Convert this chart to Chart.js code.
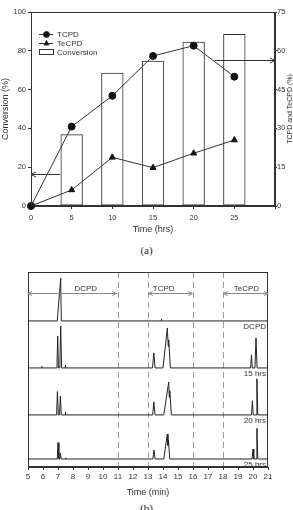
<!DOCTYPE html>
<html>
<head>
<meta charset="utf-8">
<script src="https://cdn.jsdelivr.net/npm/chart.js@4.4.1/dist/chart.umd.min.js"></script>
<style>
  body { margin: 0; background: #fff; width: 293px; height: 510px; position: relative; overflow: hidden; }
  canvas { position: absolute; left: 0; }
  #topChart { top: 0; }
  #botChart { top: 258px; }
  .cap { position: absolute; left: 0; width: 293px; text-align: center; font: 11px "Liberation Serif", serif; color: #222; }
</style>
</head>
<body>
<canvas id="topChart" width="293" height="240"></canvas>
<div class="cap" style="top:244px">(a)</div>
<canvas id="botChart" width="293" height="240"></canvas>
<div class="cap" style="top:502px">(b)</div>

<script>
// ---- (a) conversion / selectivity data ----
const hours = [0, 5, 10, 15, 20, 25];
const tcpd = [0, 30.7, 42.6, 58, 62, 50];
const tecpd = [0, 6.2, 18.8, 14.8, 20.4, 25.5];
const convHours = [5, 10, 15, 20, 25];
const conversion = [37, 68.7, 74.9, 84.7, 88.7];
// arrows: [fromX, toX, y on left axis]
const leftArrow = [3.6, 0, 16.5];
const rightArrow = [22.6, 30, 75.3];

// ---- (b) chromatograms ----
const traceNames = ['DCPD', '15 hrs', '20 hrs', '25 hrs'];
const traceBase = [74.9, 50.8, 26.7, 4.1];
// [time (min), peak height]
const tracePeaks = [
  [[5, 0], [6.95, 0], [7.18, 22], [7.22, 0], [13.87, 0], [13.89, 1], [13.91, 0], [21, 0]],
  [[5, 0], [5.92, 0], [5.93, 0.8], [5.94, 0], [6.93, 0], [6.98, 16.4], [7.03, 0], [7.12, 0], [7.18, 21.5], [7.24, 0],
   [7.47, 0], [7.49, 1.5], [7.52, 0], [13.3, 0], [13.39, 7.7], [13.47, 0], [14.0, 0], [14.29, 20.5], [14.35, 11],
   [14.38, 14.4], [14.49, 0], [19.84, 0], [19.9, 6.7], [19.95, 0], [20.13, 0], [20.2, 15.4], [20.27, 0], [21, 0]],
  [[5, 0], [6.91, 0], [6.96, 12], [7.02, 0], [7.1, 0], [7.16, 9.7], [7.22, 0], [7.47, 0], [7.49, 1.5], [7.52, 0],
   [13.31, 0], [13.39, 6.7], [13.47, 0], [14.05, 0], [14.38, 16.8], [14.42, 9], [14.45, 12.4], [14.56, 0],
   [19.9, 0], [19.96, 7.3], [20.02, 0], [20.2, 0], [20.26, 18.5], [20.32, 0], [21, 0]],
  [[5, 0], [6.95, 0], [7.0, 8.4], [7.06, 0], [7.12, 0], [7.16, 3.1], [7.21, 0], [7.48, 0], [7.5, 0.6], [7.52, 0],
   [13.32, 0], [13.4, 4.6], [13.47, 0], [14.05, 0], [14.29, 12.8], [14.33, 7], [14.36, 9.7], [14.45, 0],
   [19.94, 0], [20.0, 5.1], [20.05, 0], [20.2, 0], [20.26, 15.7], [20.32, 0], [21, 0]]
];
const dashedAt = [11, 13, 16, 18];
const ranges = [[5, 10.9, 'DCPD', 8.85], [13.05, 15.95, 'TCPD', 14.05], [18.05, 21, 'TeCPD', 19.56]];
const rangeY = 89.2;

Chart.defaults.font.family = '"Liberation Sans", Arial, sans-serif';
Chart.defaults.font.size = 8;
Chart.defaults.color = '#333';

function arrow(ctx, x1, x2, y, head) {
  ctx.beginPath();
  ctx.moveTo(x1, y);
  ctx.lineTo(x2, y);
  const d = x2 > x1 ? -1 : 1;
  ctx.moveTo(x2 + d * head, y - head * 0.5);
  ctx.lineTo(x2, y);
  ctx.lineTo(x2 + d * head, y + head * 0.5);
  ctx.stroke();
}

const topDecor = {
  id: 'topDecor',
  afterDraw(chart) {
    const { ctx, chartArea: a, scales } = chart;
    ctx.save();
    ctx.strokeStyle = '#333';
    ctx.lineWidth = 1;
    ctx.strokeRect(a.left + 0.5, a.top + 0.5, a.width - 1, a.height - 1);

    // arrows pointing to the axes
    for (const ar of [leftArrow, rightArrow]) {
      const y = Math.round(scales.y.getPixelForValue(ar[2])) + 0.5;
      arrow(ctx, scales.x.getPixelForValue(ar[0]), scales.x.getPixelForValue(ar[1]), y, 5);
    }

    // legend inside the plot
    const lx = a.left + 8, ly = a.top + 22;
    chart.data.datasets.forEach((ds, i) => {
      const y = ly + i * 9;
      ctx.strokeStyle = '#333';
      ctx.fillStyle = '#111';
      if (ds.type === 'line') {
        ctx.beginPath();
        ctx.moveTo(lx, y + 0.5);
        ctx.lineTo(lx + 14, y + 0.5);
        ctx.stroke();
        Chart.helpers.drawPoint(ctx, { pointStyle: ds.pointStyle, radius: 3, borderWidth: 1 }, lx + 7.5, y + 0.5);
      } else {
        ctx.strokeRect(lx + 0.5, y - 2.5, 14, 5);
      }
      ctx.fillStyle = '#333';
      ctx.font = '8px "Liberation Sans", Arial, sans-serif';
      ctx.textBaseline = 'middle';
      ctx.fillText(ds.label, lx + 18, y + 0.5);
    });

    // right axis title, reading bottom-to-top
    ctx.translate(290, (a.top + a.bottom) / 2);
    ctx.rotate(-Math.PI / 2);
    ctx.textAlign = 'center';
    ctx.textBaseline = 'middle';
    ctx.fillStyle = '#333';
    ctx.font = '7px "Liberation Sans", Arial, sans-serif';
    ctx.fillText('TCPD and TeCPD (%)', 0, 0);
    ctx.restore();
  }
};

new Chart(document.getElementById('topChart'), {
  type: 'bar',
  data: {
    datasets: [
      {
        type: 'line', label: 'TCPD', yAxisID: 'y2', order: 1,
        data: hours.map((h, i) => ({ x: h, y: tcpd[i] })),
        borderColor: '#333', borderWidth: 1, tension: 0, clip: false,
        pointStyle: 'circle', pointRadius: 3.5, pointBackgroundColor: '#111', pointBorderColor: '#111'
      },
      {
        type: 'line', label: 'TeCPD', yAxisID: 'y2', order: 2,
        data: hours.map((h, i) => ({ x: h, y: tecpd[i] })),
        borderColor: '#333', borderWidth: 1, tension: 0, clip: false,
        pointStyle: 'triangle', pointRadius: 3.5, pointBackgroundColor: '#111', pointBorderColor: '#111'
      },
      {
        type: 'bar', label: 'Conversion', yAxisID: 'y', order: 3,
        data: convHours.map((h, i) => ({ x: h, y: conversion[i] })),
        backgroundColor: 'rgba(255,255,255,0)', borderColor: '#333', borderWidth: 1, borderSkipped: false,
        categoryPercentage: 0.55, barPercentage: 1
      }
    ]
  },
  options: {
    responsive: false,
    animation: false,
    layout: { padding: { top: 12, left: 0, right: 0, bottom: 5 } },
    plugins: { legend: { display: false }, tooltip: { enabled: false } },
    scales: {
      x: {
        type: 'linear', min: 0, max: 30, offset: false,
        grid: { display: true, drawOnChartArea: false, tickLength: 3, color: '#333', offset: false },
        border: { color: '#333' },
        ticks: { stepSize: 5, padding: 4, maxRotation: 0, font: { size: 7.5 }, callback: v => (v <= 25 ? v : '') },
        title: { display: true, text: 'Time (hrs)', font: { size: 9 }, padding: { top: 3, bottom: 0 } },
        afterFit: s => { s.height = 29; }
      },
      y: {
        position: 'left', min: 0, max: 100,
        grid: { drawOnChartArea: false, tickLength: 3, color: '#333' },
        border: { color: '#333' },
        ticks: { stepSize: 20, padding: 2, font: { size: 7.5 } },
        title: { display: true, text: 'Conversion (%)', font: { size: 9 }, padding: 0 },
        afterFit: s => { s.width = 31; }
      },
      y2: {
        position: 'right', min: 0, max: 75,
        grid: { drawOnChartArea: false, tickLength: 2, color: '#333' },
        border: { color: '#333' },
        ticks: { stepSize: 15, padding: 0, font: { size: 7.5 } },
        afterFit: s => { s.width = 18; }
      }
    }
  },
  plugins: [topDecor]
});

const botDecor = {
  id: 'botDecor',
  beforeDatasetsDraw(chart) {
    const { ctx, chartArea: a, scales } = chart;
    ctx.save();
    ctx.strokeStyle = '#999';
    ctx.lineWidth = 1;
    ctx.setLineDash([6, 4]);
    for (const t of dashedAt) {
      const x = Math.round(scales.x.getPixelForValue(t)) + 0.5;
      ctx.beginPath();
      ctx.moveTo(x, a.top);
      ctx.lineTo(x, a.bottom);
      ctx.stroke();
    }
    ctx.restore();
  },
  afterDraw(chart) {
    const { ctx, chartArea: a, scales } = chart;
    const xs = scales.x, ys = scales.y;
    ctx.save();
    ctx.strokeStyle = '#333';
    ctx.lineWidth = 1;
    ctx.strokeRect(a.left + 0.5, a.top + 0.5, a.width - 1, a.height - 1);

    // component windows
    ctx.strokeStyle = '#888';
    ctx.font = '8px "Liberation Sans", Arial, sans-serif';
    const ry = Math.round(ys.getPixelForValue(rangeY)) + 0.5;
    for (const r of ranges) {
      const x1 = xs.getPixelForValue(r[0]), x2 = xs.getPixelForValue(r[1]);
      arrow(ctx, (x1 + x2) / 2, x1, ry, 4);
      arrow(ctx, (x1 + x2) / 2, x2, ry, 4);
      ctx.fillStyle = '#333';
      ctx.textAlign = 'center';
      ctx.textBaseline = 'bottom';
      ctx.fillText(r[2], xs.getPixelForValue(r[3]), ry - 1);
    }

    // trace names
    ctx.textAlign = 'right';
    ctx.textBaseline = 'middle';
    traceNames.forEach((n, i) => {
      ctx.fillText(n, a.right - 2, ys.getPixelForValue(traceBase[i] - 3));
    });
    ctx.restore();
  }
};

new Chart(document.getElementById('botChart'), {
  type: 'line',
  data: {
    datasets: tracePeaks.map((pts, i) => ({
      label: traceNames[i],
      data: pts.map(p => ({ x: p[0], y: p[1] + traceBase[i] })),
      borderColor: '#222', borderWidth: 1, pointRadius: 0, tension: 0
    }))
  },
  options: {
    responsive: false,
    animation: false,
    layout: { padding: { top: 14, left: 28, right: 25, bottom: 0 } },
    plugins: { legend: { display: false }, tooltip: { enabled: false } },
    scales: {
      x: {
        type: 'linear', min: 5, max: 21,
        grid: { drawOnChartArea: false, tickLength: 3, color: '#333' },
        border: { color: '#333' },
        ticks: { stepSize: 1, padding: 2, maxRotation: 0, autoSkip: false },
        title: { display: true, text: 'Time (min)', font: { size: 9 }, padding: { top: 3, bottom: 0 } },
        afterFit: s => { s.height = 31; }
      },
      y: { display: false, min: 0, max: 100 }
    }
  },
  plugins: [botDecor]
});
</script>
</body>
</html>
